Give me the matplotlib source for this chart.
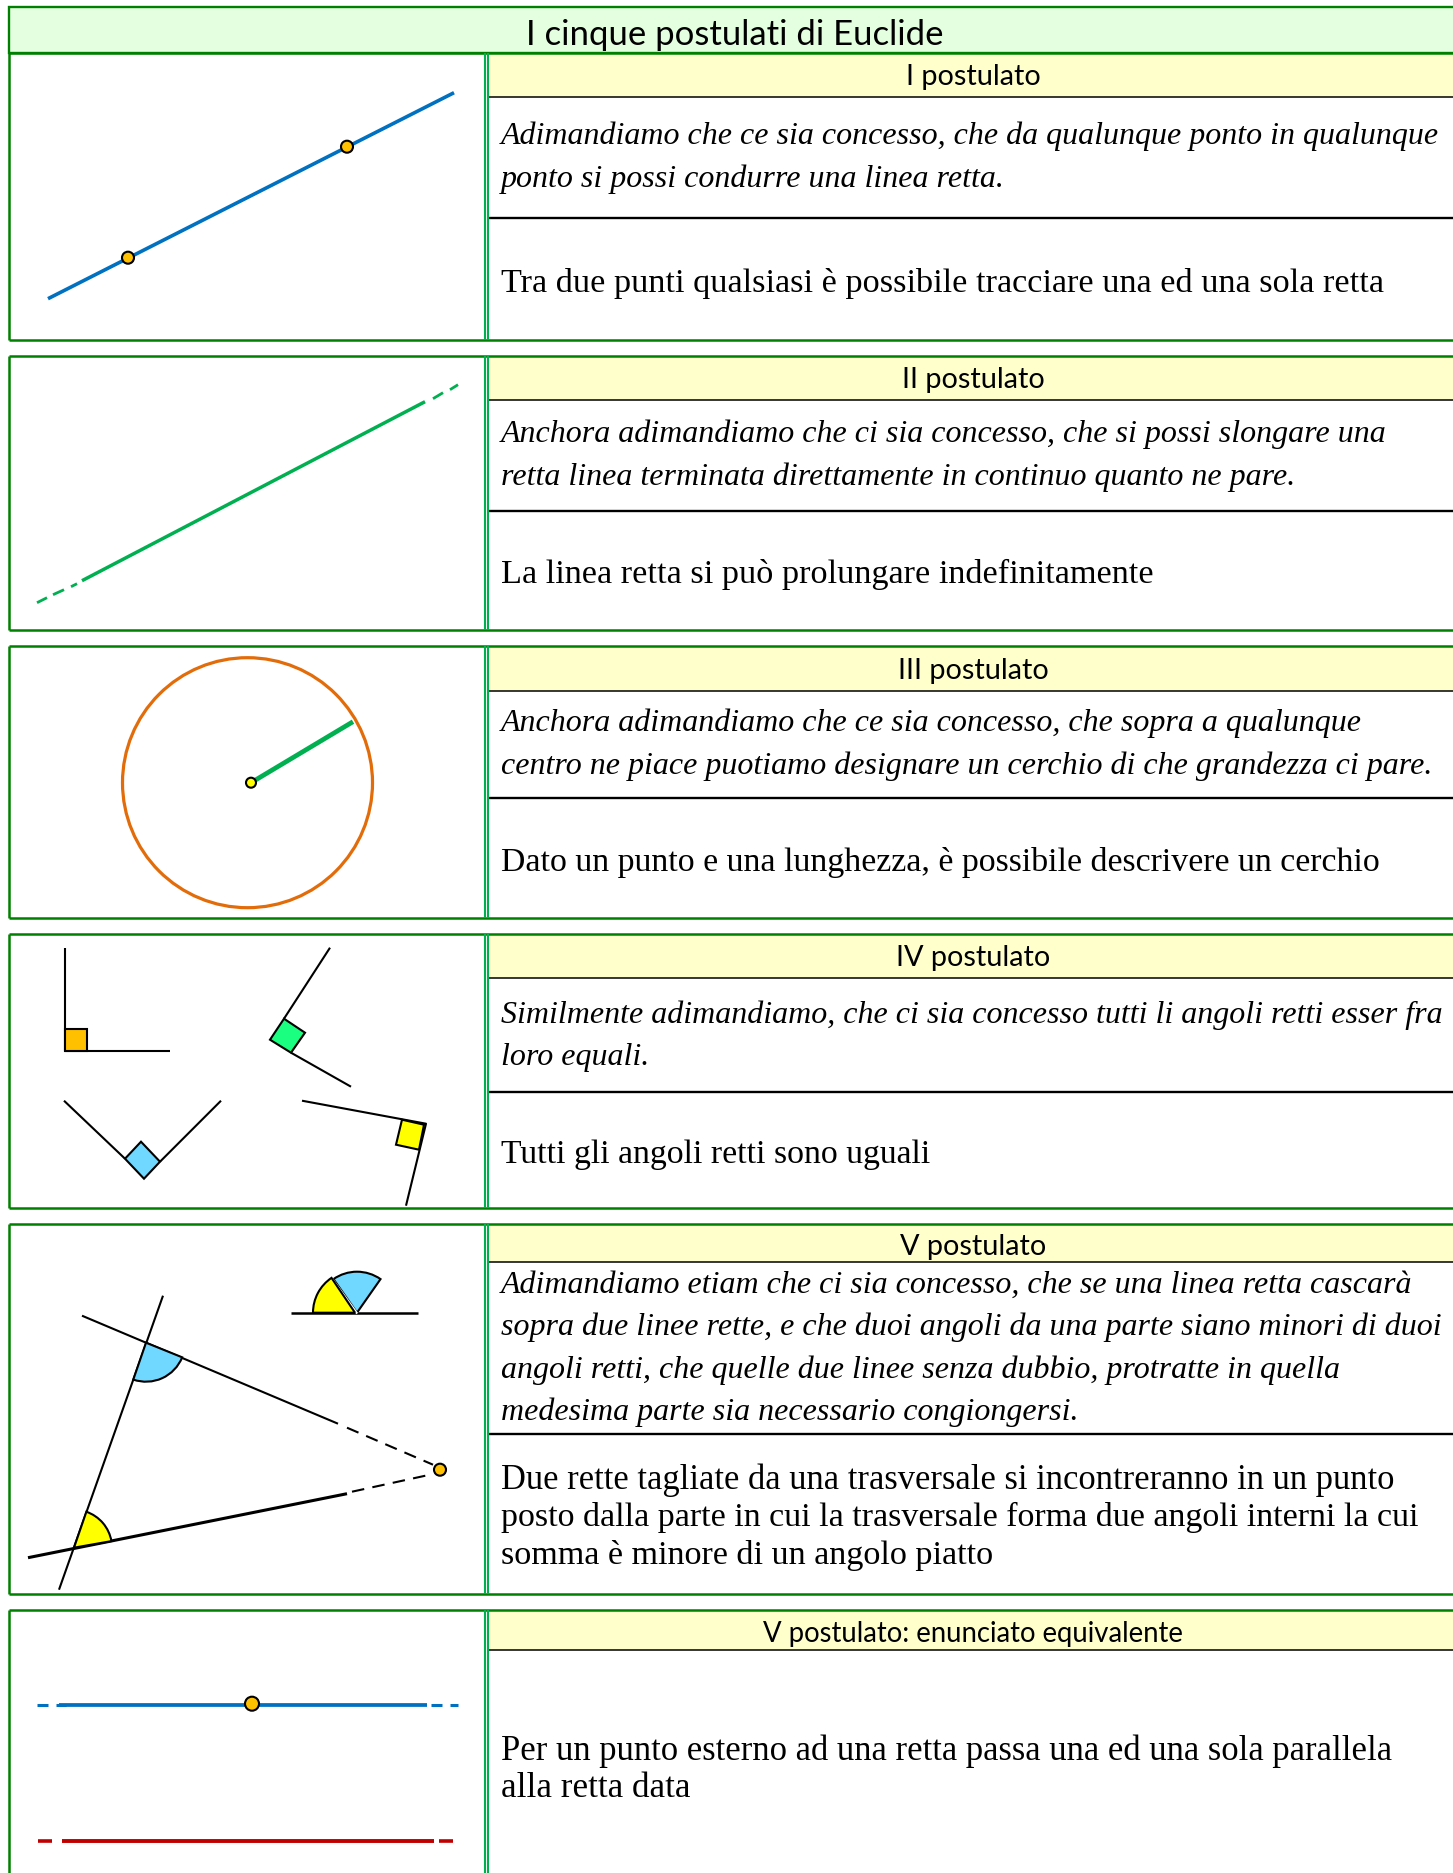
import matplotlib
matplotlib.use("Agg")
import matplotlib.pyplot as plt
from matplotlib.patches import Rectangle, Polygon, Wedge, Circle

W, H = 1453, 1874
BORDER = '#008000'; DIV = '#00B050'; TITLEBG = '#E3FFE0'; HEADBG = '#FFFFCC'
BLUE = '#0070C0'; ORANGE = '#FFC000'; CIRC = '#E36C0A'; GREEN = '#00B050'; RED = '#C00000'
SKY = '#70D8FF'; MINT = '#1AFF80'; YEL = '#FFFF00'

title = 'I cinque postulati di Euclide'
row_tops = [53, 356, 646, 934, 1224, 1610]
row_bottoms = [340, 630.5, 918, 1208, 1594, 1890]
head_bottoms = [97, 400, 691, 978, 1262, 1650]
seps = [218, 511, 798, 1092, 1434, None]
head_labels = ['I postulato', 'II postulato', 'III postulato', 'IV postulato', 'V postulato',
               'V postulato: enunciato equivalente']
head_sizes = [20.8, 20.8, 20.8, 20.8, 20.8, 19.8]
head_y = [84, 387, 678, 965, 1254, 1641]
italics = [
    [('Adimandiamo che ce sia concesso, che da qualunque ponto in qualunque', 143.3),
     ('ponto si possi condurre una linea retta.', 186.3)],
    [('Anchora adimandiamo che ci sia concesso, che si possi slongare una', 441.8),
     ('retta linea terminata direttamente in continuo quanto ne pare.', 484.8)],
    [('Anchora adimandiamo che ce sia concesso, che sopra a qualunque', 730.3),
     ('centro ne piace puotiamo designare un cerchio di che grandezza ci pare.', 773.5)],
    [('Similmente adimandiamo, che ci sia concesso tutti li angoli retti esser fra', 1022.3),
     ('loro equali.', 1064.3)],
    [('Adimandiamo etiam che ci sia concesso, che se una linea retta cascarà', 1292.3),
     ('sopra due linee rette, e che duoi angoli da una parte siano minori di duoi', 1334.3),
     ('angoli retti, che quelle due linee senza dubbio, protratte in quella', 1377.3),
     ('medesima parte sia necessario congiongersi.', 1419.3)],
]
bodies = [
    ('Tra due punti qualsiasi è possibile tracciare una ed una sola retta', 291, 24.67),
    ('La linea retta si può prolungare indefinitamente', 582, 24.7),
    ('Dato un punto e una lunghezza, è possibile descrivere un cerchio', 870, 24.42),
    ('Tutti gli angoli retti sono uguali', 1162, 24.28),
    ('Due rette tagliate da una trasversale si incontreranno in un punto', 1488, 24.87),
    ('posto dalla parte in cui la trasversale forma due angoli interni la cui', 1525, 24.45),
    ('somma è minore di un angolo piatto', 1563, 24.6),
    ('Per un punto esterno ad una retta passa una ed una sola parallela', 1759, 24.92),
    ('alla retta data', 1796, 25.2),
]

# diagram geometry (px)
r1_line = ([48, 454], [299, 93])
r1_pts = [(128, 258), (347, 147)]
r2_solid = ([82, 425], [581, 402])
r2_dashes = [([37, 47], [603, 598]), ([53, 64], [595, 590]), ([71, 77], [587, 584]),
             ([433, 443], [399, 393]), ([450, 458], [390, 385])]
r3_center = (247.5, 783); r3_radius = 125
r3_point = (251, 783)
r3_seg = ([251, 353], [783, 722])
a1 = [(65, 948), (65, 1051), (170, 1051)]; a1_sq = [(65, 1029), (87, 1029), (87, 1051), (65, 1051)]
a2 = [[(330, 948), (284, 1019)], [(291, 1053), (351, 1087)]]
a2_sq = [(284, 1019), (305, 1033), (291, 1053), (270, 1040)]
a3 = [[(64, 1101), (125, 1159)], [(221, 1101), (160, 1162)]]
a3_sq = [(141, 1142), (160, 1162), (144, 1179), (125, 1159)]
a4 = [(302, 1101), (426, 1124), (406, 1206)]
a4_sq = [(402, 1120), (424, 1125), (419, 1150), (396, 1145)]
tr = ([163, 59], [1296, 1590])
up = ([82, 338], [1316, 1424]); up_d = ([347, 433], [1428, 1465])
lo = ([28, 347], [1558, 1494]); lo_d = ([352, 430], [1492, 1475])
meet = (440, 1470)
sh = ([291, 418], [1313, 1313])
sh_gap = ([356.5, 332], [1313, 1279])

plt.rcParams['font.family'] = ['Liberation Serif', 'DejaVu Sans']
fig = plt.figure(figsize=(W/100, H/100), dpi=100, facecolor='white')
ax = fig.add_axes([0, 0, 1, 1])
ax.set_xlim(0, W); ax.set_ylim(H-0.7, -0.7); ax.axis('off')

def ln(xs, ys, c='black', lw=1.5, **k):
    ax.plot(xs, ys, color=c, lw=lw, solid_capstyle='butt', **k)

def dash(xs, ys, c, lw, pat):
    ax.plot(xs, ys, color=c, lw=lw, linestyle=(0, pat), dash_capstyle='butt')

def dot(p, r=6, fc=ORANGE):
    ax.add_patch(Circle(p, r, fc=fc, ec='black', lw=1.5, zorder=6))

def poly(pts, fc):
    ax.add_patch(Polygon(pts, closed=True, fc=fc, ec='black', lw=1.5, zorder=4))

def wedge(c, r, a_low, a_high, fc, z=4):
    ax.add_patch(Wedge(c, r, -a_high, -a_low, fc=fc, ec='black', lw=1.5, zorder=z))

# title band
ax.add_patch(Rectangle((9, 7), W, 46, fc=TITLEBG, ec=BORDER, lw=1.7))
ax.text(735, 34, title, ha='center', va='center', fontsize=25, family=['Lato', 'DejaVu Sans'])

for i in range(6):
    t, b = row_tops[i], row_bottoms[i]
    ax.add_patch(Rectangle((487, t), W, head_bottoms[i]-t, fc=HEADBG, ec='none'))
    ln([487, W], [head_bottoms[i]]*2, lw=1.1)
    if seps[i]:
        ln([487, W], [seps[i]]*2, lw=1.7)
    ln([9, W], [t, t], BORDER, 1.8)
    ln([9, W], [b, b], BORDER, 1.8)
    ln([9, 9], [t, b], BORDER, 1.8)
    ln([485, 485], [t, b], DIV, 1.5)
    ln([488, 488], [t, b], DIV, 1.5)
    ax.text(973, head_y[i], head_labels[i], ha='center', va='baseline', fontsize=head_sizes[i],
            family=['Lato', 'DejaVu Sans'])

for group in italics:
    for s, y in group:
        ax.text(501, y, s, ha='left', va='baseline', fontsize=23.05, style='italic')
for s, y, fs in bodies:
    ax.text(501, y, s, ha='left', va='baseline', fontsize=fs)

# row 1
ln(*r1_line, BLUE, 2.6)
for p in r1_pts:
    dot(p)
# row 2
ln(*r2_solid, GREEN, 2.5)
for xs, ys in r2_dashes:
    ln(xs, ys, GREEN, 2.0)
# row 3
ax.add_patch(Circle(r3_center, r3_radius, fc='none', ec=CIRC, lw=2.3))
ln(*r3_seg, GREEN, 3.4)
dot(r3_point, 5, YEL)
# row 4
ln(*zip(*a1))
poly(a1_sq, ORANGE)
for seg in a2:
    ln(*zip(*seg))
poly(a2_sq, MINT)
for seg in a3:
    ln(*zip(*seg))
poly(a3_sq, SKY)
ln(*zip(*a4))
poly(a4_sq, YEL)
# row 5
ln(*tr); ln(*up); ln(*lo, lw=2.2)
dash(*up_d, 'black', 1.5, (6, 4)); dash(*lo_d, 'black', 1.5, (6, 4))
dot(meet)
wedge((146, 1343), 39, -109, -22, SKY)
wedge((74, 1548), 38, 10, 71, YEL)
ln(*sh, lw=1.8)
wedge((357, 1313), 41, 55, 125, SKY, 4)
ax.plot(*sh_gap, color='white', lw=1.6, zorder=5)
wedge((355, 1313), 42, 124, 180, YEL, 6)
# row 6
ln([59, 427], [1705, 1705], BLUE, 2.7)
for xs in ([37, 48], [56, 66], [431, 442], [450, 458]):
    ln(xs, [1705, 1705], BLUE, 2.2)
dot((252, 1704), 7)
ln([62, 434], [1841, 1841], RED, 2.8)
for xs in ([38, 52], [439, 453]):
    ln(xs, [1841, 1841], RED, 2.6)

fig.savefig('out.png', dpi=100)
